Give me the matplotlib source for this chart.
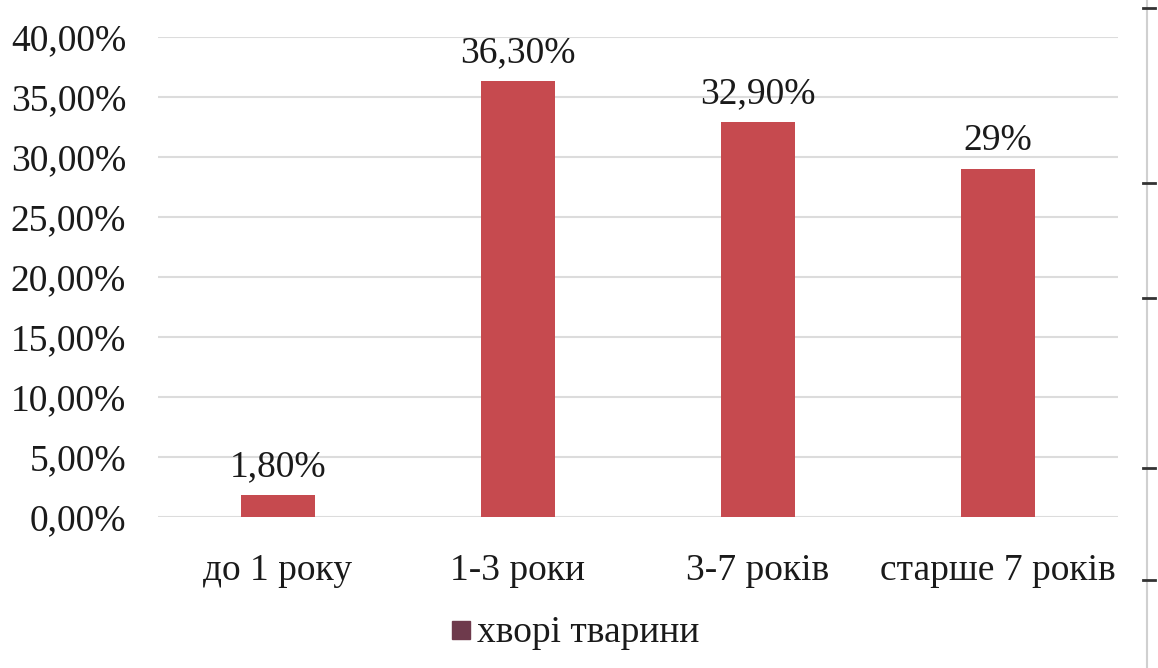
import matplotlib.pyplot as plt
from matplotlib.lines import Line2D
from matplotlib.patches import Rectangle

# дані з діаграми
categories = ['до 1 року', '1-3 роки', '3-7 років', 'старше 7 років']
values = [1.8, 36.3, 32.9, 29.0]
value_labels = ['1,80%', '36,30%', '32,90%', '29%']
y_ticks = [0, 5, 10, 15, 20, 25, 30, 35, 40]
series_name = 'хворі тварини'

plt.rcParams['font.family'] = ['Liberation Serif', 'DejaVu Serif']

fig = plt.figure(figsize=(11.58, 6.68), dpi=100)
ax = fig.add_axes([0.1364, 0.226, 0.829, 0.7186])

x = range(len(categories))
ax.bar(x, values, width=0.31, color='#c64a4f', zorder=3)

for xi, v, lab in zip(x, values, value_labels):
    ax.annotate(lab, (xi, v), xytext=(0, 8), textcoords='offset points',
                ha='center', va='bottom', fontsize=27, color='#1a1a1a')

ax.set_xlim(-0.5, len(categories) - 0.5)
ax.set_ylim(0, 40)
ax.set_yticks(y_ticks)
ax.set_yticklabels([f'{t:.2f}%'.replace('.', ',') for t in y_ticks])
ax.set_xticks(list(x))
ax.set_xticklabels(categories)
ax.tick_params(axis='y', length=0, pad=23, labelsize=27, labelcolor='#1a1a1a')
ax.tick_params(axis='x', length=0, pad=26, labelsize=27, labelcolor='#1a1a1a')
ax.grid(axis='y', color='#dcdcdc', linewidth=1.5, zorder=0)
for s in ax.spines.values():
    s.set_visible(False)

# легенда
fig.patches.append(Rectangle((452 / 1158, 1 - 639 / 668), 18 / 1158, 18 / 668,
                             transform=fig.transFigure, color='#6e3a4c'))
fig.text(477 / 1158, 1 - 633 / 668, series_name, fontsize=27,
         va='center', ha='left', color='#1a1a1a')

# рамка справа
xr = 1147 / 1158
fig.add_artist(Line2D([xr, xr], [0, 1], color='#d0d0d0', linewidth=1.5))
for yp in [8, 183, 298, 468, 580]:
    yy = 1 - yp / 668
    fig.add_artist(Line2D([xr - 4 / 1158, xr + 8 / 1158], [yy, yy],
                          color='#333333', linewidth=2))

fig.savefig('out.png', dpi=100)
